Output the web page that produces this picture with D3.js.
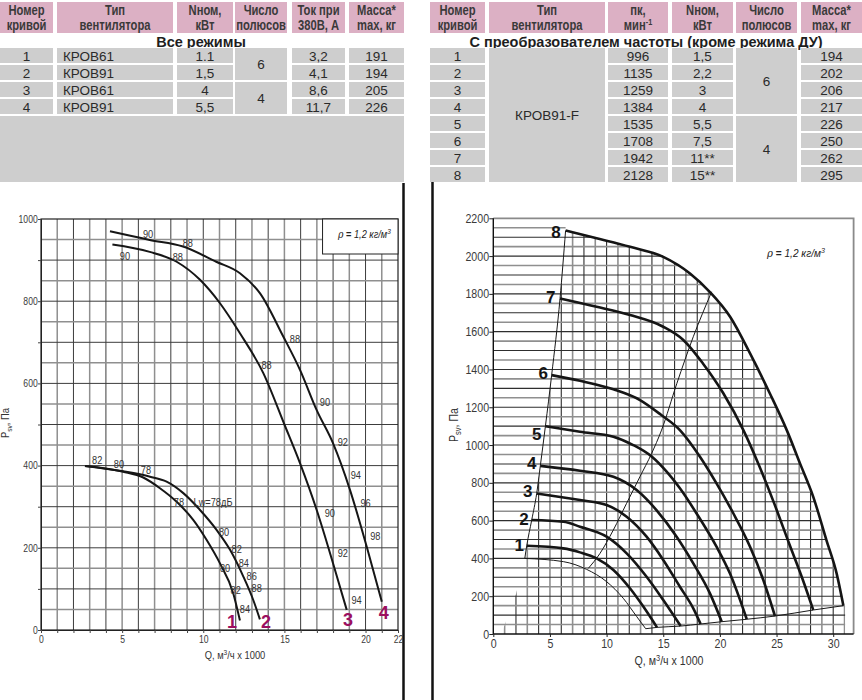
<!DOCTYPE html>
<html><head><meta charset="utf-8">
<script src="https://cdn.jsdelivr.net/npm/d3@7"></script>
<style>body{margin:0;background:#fff}svg{display:block}</style>
</head><body><svg id="c" width="862" height="700"></svg>
<script>
// ================= DATA =================
// Left table
const leftHeaders = [["Номер","кривой"],["Тип","вентилятора"],["Nном,","кВт"],["Число","полюсов"],["Ток при","380В, А"],["Масса*","max, кг"]];
const leftTitle = "Все режимы";
const leftCurveNo = ["1","2","3","4"];
const leftType = ["КРОВ61","КРОВ91","КРОВ61","КРОВ91"];
const leftPower = ["1.1","1,5","4","5,5"];
const leftPoles = [["6",0,1],["4",2,3]];
const leftCurrent = ["3,2","4,1","8,6","11,7"];
const leftMass = ["191","194","205","226"];
// Right table
const rightHeaders = [["Номер","кривой"],["Тип","вентилятора"],["пк,","мин"],["Nном,","кВт"],["Число","полюсов"],["Масса*","max, кг"]];
const rightTitle = "С преобразователем частоты (кроме режима ДУ)";
const rightCurveNo = ["1","2","3","4","5","6","7","8"];
const rightType = "КРОВ91-F";
const rightSpeed = ["996","1135","1259","1384","1535","1708","1942","2128"];
const rightPower = ["1,5","2,2","3","4","5,5","7,5","11**","15**"];
const rightPoles = [["6",0,3],["4",4,7]];
const rightMass = ["194","202","206","217","226","250","262","295"];

// Left chart (Q thousand m3/h, P Pa)
const leftXTicks = [0,5,10,15,20,22];
const leftYTicks = [0,200,400,600,800,1000];
const lCurve1 = [[2.71,399],[5.07,385],[6.3,371],[7.33,345],[8.36,312],[9.38,268],[10.21,219],[11.03,162],[11.85,89],[12.26,23]];
const lCurve2 = [[2.71,399],[5.07,386],[6.72,373],[7.74,361],[8.77,333],[9.8,292],[10.83,243],[11.65,195],[12.47,130],[13.08,73],[13.49,26]];
const lCurve3 = [[4.4,938],[6.7,920],[8.36,896],[9.8,852],[11.03,795],[12.26,722],[13.7,625],[15.0,500],[15.96,406],[16.99,292],[18.0,162],[18.84,49]];
const lCurve4 = [[4.25,970],[6.7,949],[8.75,933],[10.8,896],[12.26,868],[13.5,819],[14.93,714],[15.96,633],[16.99,535],[18.0,454],[19.04,341],[20.07,203],[21.0,69]];
const lCurveLabels = [["1",11.77,19],["2",13.86,19],["3",18.92,24],["4",21.13,41]];
const lNoiseLabels = [["90",6.6,963],["88",9.05,941],["90",5.17,910],["88",8.43,907],["88",15.65,708],["88",13.9,645],["90",17.5,555],["92",18.6,458],["94",19.4,377],["96",20.0,309],["98",20.6,229],["90",17.8,284],["92",18.6,188],["94",19.45,73],["82",3.46,414],["80",4.8,404],["78",6.47,389],["78",8.5,312],["Lw=78дБ",10.6,312],["80",11.28,239],["82",12.06,197],["84",12.5,162],["86",12.98,132],["88",13.29,102],["80",11.34,151],["82",12.0,97],["84",12.57,51]];

// Right chart
const rightXTicks = [0,5,10,15,20,25,30];
const rightYTicks = [0,200,400,600,800,1000,1200,1400,1600,1800,2000,2200];
const rCurve1 = [[2.95,467],[6.18,453],[7.65,432],[9.12,400],[10.6,339],[12.06,242],[13.24,145],[14.45,35]];
const rCurve2 = [[3.39,603],[6.18,594],[7.65,568],[10.0,515],[11.77,427],[13.53,303],[15.0,180],[16.54,42]];
const rCurve3 = [[3.83,744],[7.65,709],[10.0,683],[11.77,621],[13.53,515],[15.0,392],[16.47,250],[17.65,136],[18.3,53]];
const rCurve4 = [[4.15,890],[7.65,864],[10.6,832],[12.65,762],[14.4,656],[16.18,515],[17.65,374],[19.12,215],[20.16,65]];
const rCurve5 = [[4.6,1100],[7.65,1070],[10.6,1044],[12.35,1000],[14.0,938],[15.3,859],[16.47,771],[17.94,638],[19.7,462],[20.88,321],[22.37,78]];
const rCurve6 = [[5.15,1370],[7.65,1340],[10.6,1295],[12.95,1238],[14.8,1160],[16.47,1079],[18.24,938],[19.7,797],[21.18,639],[22.66,462],[23.83,286],[24.86,95]];
const rCurve7 = [[5.89,1776],[9.12,1732],[12.07,1688],[15.0,1626],[16.77,1556],[18.5,1432],[20.3,1274],[22.07,1079],[23.4,900],[24.8,690],[26.1,480],[27.3,290],[28.24,127]];
const rCurve8 = [[6.38,2135],[9.12,2094],[12.07,2049],[15.0,1996],[17.36,1908],[19.1,1811],[20.9,1679],[22.66,1485],[24.4,1274],[25.9,1079],[27.07,903],[28.24,726],[29.4,497],[30.3,321],[30.9,150]];
const rMinCurve = [[2.78,400],[6.18,383],[8.24,342],[10.0,277],[11.47,189],[12.66,92],[13.45,28]];
const rBottomLine = [[13.45,28],[14.45,35],[16.54,42],[18.3,53],[20.16,65],[22.37,78],[24.86,95],[28.24,127],[30.9,150]];
const rLeftLine = [[2.78,400],[2.95,467],[3.39,603],[3.83,744],[4.15,890],[4.6,1100],[5.15,1370],[5.89,1776],[6.38,2135]];
const rEffLine = [[8.38,347],[9.41,426],[10.59,550],[11.76,691],[12.94,832],[13.97,955],[14.85,1079],[16.2,1326],[17.65,1573],[19.27,1811]];
const rCurveLabels = [["1",2.29,471],["2",2.71,607],["3",3.04,757],["4",3.39,903],["5",3.83,1058],["6",4.41,1383],["7",5.07,1785],["8",5.53,2129]];

// ================= DRAW =================
const svg = d3.select("#c");
const SANS = "'Liberation Sans',Arial,sans-serif";
const PINK = "#dcb0c4", GRAY = "#cecece", TXT = "#2a2a2a";
// condensed text: Liberation Sans squeezed horizontally
function ntext(g, x, y, s, size, sx, opts) {
  opts = opts || {};
  const t = g.append("text").attr("transform",`translate(${x},${y}) scale(${sx},1)`)
    .attr("text-anchor", opts.anchor || "middle").attr("font-family",SANS).attr("font-size",size)
    .attr("fill", opts.fill || "#333");
  if (opts.bold) t.attr("font-weight","bold");
  if (opts.dy) t.attr("dy", opts.dy);
  if (s !== null) t.text(s);
  return t;
}

function headerRow(cols, headers) {
  const g = svg.append("g");
  g.selectAll("rect").data(cols).join("rect")
    .attr("x", d => d[0]).attr("y", 2).attr("width", d => d[1]-d[0]).attr("height", 31).attr("fill", PINK);
  headers.forEach((h, i) => {
    const cx = (cols[i][0]+cols[i][1])/2;
    ntext(g, cx, 15, h[0], 14, 0.8, {bold:true, fill:"#3a3a3a"});
    const t2 = ntext(g, cx, 30, h[1], 14, 0.8, {bold:true, fill:"#3a3a3a"});
    if (h[1] === "мин") t2.append("tspan").attr("dy",-5).attr("font-size",9).text("-1");
  });
}
const rowTop = i => 48 + i*17;
function cell(x0,x1,y0,y1){ svg.append("rect").attr("x",x0).attr("y",y0).attr("width",x1-x0).attr("height",y1-y0).attr("fill",GRAY); }
function ctext(x,y,s,anchor){ svg.append("text").attr("x",x).attr("y",y).attr("text-anchor",anchor||"middle")
  .attr("font-family",SANS).attr("font-size",13.5).attr("fill",TXT).text(s); }

// left table
const lCols = [[0,53],[57,173],[177,233],[235,287],[292,345],[349,404]];
headerRow(lCols, leftHeaders);
svg.append("text").attr("x",201).attr("y",46.5).attr("text-anchor","middle").attr("font-family",SANS)
  .attr("font-weight","bold").attr("font-size",14.5).attr("fill","#1e1e1e").text(leftTitle);
const lColData = [leftCurveNo, leftType, leftPower, null, leftCurrent, leftMass];
leftCurveNo.forEach((_, i) => {
  const y0 = rowTop(i), y1 = y0 + 15;
  lColData.forEach((arr, c) => {
    if (!arr) return;
    cell(lCols[c][0], lCols[c][1], y0, y1);
    if (c === 1) ctext(lCols[c][0]+6, y0+12.5, arr[i], "start");
    else ctext((lCols[c][0]+lCols[c][1])/2, y0+12.5, arr[i]);
  });
});
leftPoles.forEach(([lab,a,b]) => {
  const y0 = rowTop(a), y1 = rowTop(b)+15;
  cell(lCols[3][0], lCols[3][1], y0, y1);
  ctext((lCols[3][0]+lCols[3][1])/2, (y0+y1)/2+5, lab);
});
cell(0, 404, 116, 182);

// right table
const rCols = [[430,485],[489,605],[608,668],[672,733],[736,797],[801,862]];
headerRow(rCols, rightHeaders);
svg.append("text").attr("x",646).attr("y",46.5).attr("text-anchor","middle").attr("font-family",SANS)
  .attr("font-weight","bold").attr("font-size",14.5).attr("fill","#1e1e1e").text(rightTitle);
const rColData = [rightCurveNo, null, rightSpeed, rightPower, null, rightMass];
rightCurveNo.forEach((_, i) => {
  const y0 = rowTop(i), y1 = y0 + 15;
  rColData.forEach((arr, c) => {
    if (!arr) return;
    cell(rCols[c][0], rCols[c][1], y0, y1);
    ctext((rCols[c][0]+rCols[c][1])/2, y0+12.5, arr[i]);
  });
});
cell(rCols[1][0], rCols[1][1], rowTop(0), rowTop(7)+15);
ctext((rCols[1][0]+rCols[1][1])/2, 120, rightType);
rightPoles.forEach(([lab,a,b]) => {
  const y0 = rowTop(a), y1 = rowTop(b)+15;
  cell(rCols[4][0], rCols[4][1], y0, y1);
  ctext((rCols[4][0]+rCols[4][1])/2, (y0+y1)/2+5, lab);
});

// panel borders
svg.append("line").attr("x1",403.5).attr("x2",403.5).attr("y1",183).attr("y2",700).attr("stroke","#111").attr("stroke-width",2.5);
svg.append("line").attr("x1",432.5).attr("x2",432.5).attr("y1",182).attr("y2",700).attr("stroke","#111").attr("stroke-width",2.5);

// helper labels with sub/sup
function yLabel(g, x, y, size) {
  const t = g.append("text").attr("transform",`translate(${x},${y}) rotate(-90) scale(0.85,1)`).attr("text-anchor","middle")
    .attr("font-family",SANS).attr("font-size",size).attr("fill","#333");
  t.append("tspan").text("P");
  t.append("tspan").attr("dy",3).attr("font-size",size*0.7).text("sv");
  t.append("tspan").attr("dy",-3).text(", Па");
}
function xLabel(g, x, y, size) {
  const t = ntext(g, x, y, null, size, 0.85);
  t.append("tspan").text("Q, м");
  t.append("tspan").attr("dy",-4).attr("font-size",size*0.7).text("3");
  t.append("tspan").attr("dy",4).text("/ч x 1000");
}
function rhoLabel(g, x, y, size) {
  const t = ntext(g, x, y, null, size, 0.88, {anchor:"start", fill:"#222"});
  t.append("tspan").attr("font-style","italic").attr("font-family","'DejaVu Serif',serif").text("ρ");
  t.append("tspan").attr("font-weight","bold").text(" = ");
  t.append("tspan").attr("font-style","italic").text("1,2 кг/м");
  t.append("tspan").attr("dy",-4).attr("font-size",size*0.7).attr("font-style","italic").text("3");
}
function styleAxis(a, size, sx) {
  a.selectAll("text").attr("font-family",SANS).attr("font-size",size).attr("fill","#3a3a3a")
    .attr("transform",`scale(${sx},1)`);
}

// ---------------- LEFT CHART ----------------
const xL = d3.scaleLinear().domain([0,22]).range([41,398]);
const yL = d3.scaleLinear().domain([0,1000]).range([630,219]);
const gL = svg.append("g");
gL.selectAll(".vg").data(d3.range(1,22)).join("line")
  .attr("x1",d=>xL(d)).attr("x2",d=>xL(d)).attr("y1",yL(0)).attr("y2",yL(1000))
  .attr("stroke",d=>d%2?"#8f8f8f":"#3c3c3c").attr("stroke-width",d=>d%2?1.5:1);
gL.selectAll(".hg").data(d3.range(50,1000,50)).join("line")
  .attr("x1",xL(0)).attr("x2",xL(22)).attr("y1",d=>yL(d)).attr("y2",d=>yL(d))
  .attr("stroke",d=>d%100?"#8f8f8f":"#3c3c3c").attr("stroke-width",d=>d%100?1.5:1);
gL.append("rect").attr("x",xL(0)).attr("y",yL(1000)).attr("width",xL(22)-xL(0)).attr("height",yL(0)-yL(1000))
  .attr("fill","none").attr("stroke","#222").attr("stroke-width",1.2);
const axL = gL.append("g").attr("transform",`translate(${xL(0)},0)`)
  .call(d3.axisLeft(yL).tickValues(d3.range(0,1001,100)).tickSize(3).tickPadding(1)
    .tickFormat(d => leftYTicks.includes(d) ? d3.format("d")(d) : ""));
const axB = gL.append("g").attr("transform",`translate(0,${yL(0)})`)
  .call(d3.axisBottom(xL).tickValues(d3.range(0,23,1)).tickSize(3).tickPadding(4)
    .tickFormat(d => leftXTicks.includes(d) ? d3.format("d")(d) : ""));
[axL, axB].forEach(a => { a.select(".domain").attr("stroke","#222");
  styleAxis(a, 10.5, 0.82); a.selectAll("line").attr("stroke","#444"); });
axB.selectAll("text").attr("dy","0.6em");
gL.append("rect").attr("x",xL(17.35)).attr("y",yL(1000)).attr("width",xL(22)-xL(17.35)).attr("height",35)
  .attr("fill","#fff").attr("stroke","#222").attr("stroke-width",1);
rhoLabel(gL, 338, 238, 10.5);
yLabel(gL, 9, 423, 11);
xLabel(gL, 235, 659, 11);
const lineL = d3.line().x(d=>xL(d[0])).y(d=>yL(d[1])).curve(d3.curveMonotoneX);
[lCurve1,lCurve2,lCurve3,lCurve4].forEach(c => gL.append("path").attr("d",lineL(c))
  .attr("fill","none").attr("stroke","#161616").attr("stroke-width",2));
lNoiseLabels.forEach(d => ntext(gL, xL(d[1]), yL(d[2]), d[0], 11, 0.84, {dy:"0.35em"}));
gL.selectAll(".cl").data(lCurveLabels).join("text")
  .attr("x",d=>xL(d[1])).attr("y",d=>yL(d[2])).attr("dy","0.35em").attr("text-anchor","middle")
  .attr("font-family",SANS).attr("font-weight","bold").attr("font-size",18).attr("fill","#9c0f5f")
  .text(d=>d[0]);

// ---------------- RIGHT CHART ----------------
const xR = d3.scaleLinear().domain([0,31.8]).range([493.3,853.6]);
const yR = d3.scaleLinear().domain([0,2200]).range([634,218.3]);
const gR = svg.append("g");
const lineR = d3.line().x(d=>xR(d[0])).y(d=>yR(d[1])).curve(d3.curveMonotoneX);
const envPath = lineR(rCurve8).replace(/^M/,"L");
const P = (q,p) => `${xR(q)},${yR(p)}`;
const clipH = `M${P(0,0)}L${P(0,2165)}L${P(6.38,2165)}` + envPath + `L${P(31.05,150)}L${P(31.05,0)}Z`;
const clipV = `M${P(0.7,0)}L${P(2.0,210)}` + lineR(rLeftLine).replace(/^M/,"L") + envPath + `L${P(31.05,150)}L${P(31.05,0)}Z`;
const defs = svg.append("defs");
defs.append("clipPath").attr("id","cH").append("path").attr("d",clipH);
defs.append("clipPath").attr("id","cV").append("path").attr("d",clipV);
gR.append("g").attr("clip-path","url(#cV)").selectAll("line").data(d3.range(1,32)).join("line")
  .attr("x1",d=>xR(d)).attr("x2",d=>xR(d)).attr("y1",yR(0)).attr("y2",yR(2200))
  .attr("stroke",d=>d%2?"#8f8f8f":"#2e2e2e").attr("stroke-width",d=>d%2?1.6:1.1);
gR.append("g").attr("clip-path","url(#cH)").selectAll("line").data(d3.range(50,2200,50)).join("line")
  .attr("x1",xR(0)).attr("x2",xR(31.8)).attr("y1",d=>yR(d)).attr("y2",d=>yR(d))
  .attr("stroke",d=>d%100?"#8f8f8f":"#2e2e2e").attr("stroke-width",d=>d%100?1.6:1.1);
gR.append("path").attr("d",`M${P(0,2200)}L${P(31.8,2200)}L${P(31.8,0)}`).attr("fill","none")
  .attr("stroke","#8a8a8a").attr("stroke-width",1.8);
const axRL = gR.append("g").attr("transform",`translate(${xR(0)},0)`)
  .call(d3.axisLeft(yR).tickValues(rightYTicks).tickSize(4).tickPadding(1).tickFormat(d3.format("d")));
const axRB = gR.append("g").attr("transform",`translate(0,${yR(0)})`)
  .call(d3.axisBottom(xR).tickValues(rightXTicks).tickSize(3).tickPadding(2).tickFormat(d3.format("d")));
[axRL, axRB].forEach(a => { a.select(".domain").attr("stroke","#111").attr("stroke-width",1.4);
  styleAxis(a, 12.5, 0.85); a.selectAll("line").attr("stroke","#222"); });
axRB.select(".domain").attr("d",`M${xR(0)},0H${xR(31.8)}`);
axRL.select(".domain").attr("d",`M0,${yR(0)}V${yR(2200)}`);
[rMinCurve, rBottomLine, rLeftLine, rEffLine].forEach(c => gR.append("path").attr("d",lineR(c))
  .attr("fill","none").attr("stroke","#1a1a1a").attr("stroke-width",1));
[rCurve1,rCurve2,rCurve3,rCurve4,rCurve5,rCurve6,rCurve7,rCurve8].forEach(c => gR.append("path").attr("d",lineR(c))
  .attr("fill","none").attr("stroke","#151515").attr("stroke-width",2.6));
gR.selectAll(".rcl").data(rCurveLabels).join("text")
  .attr("x",d=>xR(d[1])).attr("y",d=>yR(d[2])).attr("dy","0.36em").attr("text-anchor","middle")
  .attr("font-family",SANS).attr("font-weight","bold").attr("font-size",17).attr("fill","#151515")
  .text(d=>d[0]);
rhoLabel(gR, 767, 257, 11.5);
yLabel(gR, 458, 425, 12.5);
xLabel(gR, 669, 665, 12.5);
</script></body></html>
